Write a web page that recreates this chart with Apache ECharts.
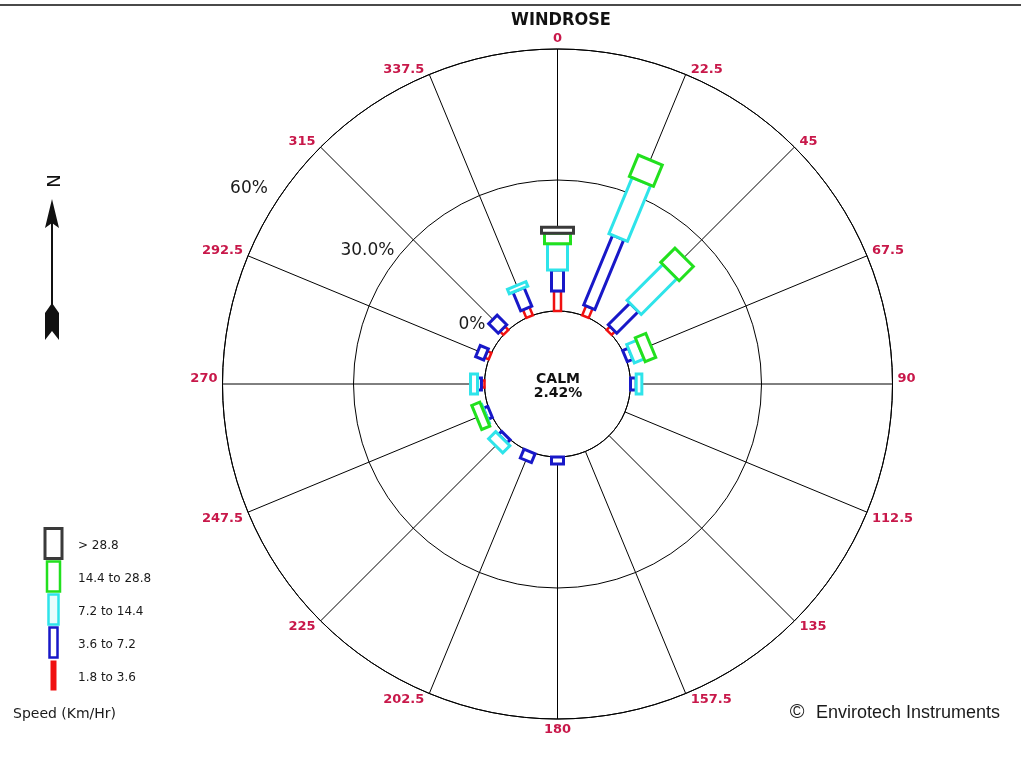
<!DOCTYPE html>
<html>
<head>
<meta charset="utf-8">
<title>Windrose</title>
<script src="https://cdn.jsdelivr.net/npm/echarts@6/dist/echarts.min.js"></script>
<style>
  html, body { margin: 0; padding: 0; background: #fff; }
  #chart { width: 1021px; height: 761px; }
</style>
</head>
<body>
<div id="chart"></div>
<script>
// Wind directions, degrees clockwise from north
const directions = [0, 22.5, 45, 67.5, 90, 112.5, 135, 157.5, 180, 202.5, 225, 247.5, 270, 292.5, 315, 337.5];
const directionLabels = ['0', '22.5', '45', '67.5', '90', '112.5', '135', '157.5', '180', '202.5', '225', '247.5', '270', '292.5', '315', '337.5'];

// Frequency (% of records) per speed class, one value per direction
const speed1_8to3_6   = [4.6, 2.3, 1.1, 0.0, 0.0, 0, 0, 0, 0.0, 0.0, 0.0, 0.0, 0.7, 1.0, 1.1, 2.0];
const speed3_6to7_2   = [4.8, 17.3, 7.0, 1.4, 1.3, 0, 0, 0, 1.6, 2.2, 1.0, 1.1, 0.9, 2.0, 3.1, 4.6];
const speed7_2to14_4  = [6.0, 13.9, 11.6, 2.4, 1.3, 0, 0, 0, 0, 0, 2.3, 0.2, 1.6, 0, 0, 1.1];
const speed14_4to28_8 = [2.4, 5.3, 4.6, 2.6, 0, 0, 0, 0, 0, 0, 0, 2.0, 0, 0, 0, 0];
const speedAbove28_8  = [1.4, 0, 0, 0, 0, 0, 0, 0, 0, 0, 0, 0, 0, 0, 0, 0];

const speedClasses = ['1.8 to 3.6', '3.6 to 7.2', '7.2 to 14.4', '14.4 to 28.8', '> 28.8'];
const speedSeries = [speed1_8to3_6, speed3_6to7_2, speed7_2to14_4, speed14_4to28_8, speedAbove28_8];

// Radial (percentage) ticks
const radialTicks = [0, 30, 60];
const radialTickLabels = ['0%', '30.0%', '60%'];

const calmPercent = 2.42;

// Styling per speed class: outline colour, bar width (px), outline width
const classStyles = [
  { color: '#f01010', width: 7,  line: 2.5, legendW: 6,  legendFill: '#f01010' },
  { color: '#1818c8', width: 12, line: 3,   legendW: 8,  legendFill: '#ffffff' },
  { color: '#2ee4ea', width: 20, line: 3,   legendW: 10, legendFill: '#e8fdfd' },
  { color: '#22e01e', width: 26, line: 3,   legendW: 13, legendFill: '#ffffff' },
  { color: '#3a3a3a', width: 32, line: 3,   legendW: 17, legendFill: '#ffffff' }
];

const RADIAL_MAX = 60;
const LABEL_RED = '#c8184a';
const ANGLE_FONT = 'bold 13px "DejaVu Sans"';
const RADIAL_FONT = '17px "DejaVu Sans"';
// Bearing and outward offset (px) of each ring's percentage label
const RADIAL_LABEL_LAYOUT = [
  { bearing: 304.6, offset: 31 },
  { bearing: 305.0, offset: 28 },
  { bearing: 302.3, offset: 30 }
];

// Unit vector pointing outwards along a direction, via the polar scale
function outward(api, dir) {
  const c = api.coord([0, dir]);
  const f = api.coord([RADIAL_MAX, dir]);
  const dx = f[0] - c[0], dy = f[1] - c[1];
  const len = Math.hypot(dx, dy) || 1;
  return [dx / len, dy / len];
}

// Stack the classes: each segment runs from the running total to total + value
function stackedData(classIdx) {
  return directions.map((dir, i) => {
    let start = 0;
    for (let k = 0; k < classIdx; k++) start += speedSeries[k][i];
    return [dir, start, start + speedSeries[classIdx][i]];
  });
}

function barRenderer(classIdx) {
  const st = classStyles[classIdx];
  return function (params, api) {
    const dir = api.value(0), r0 = api.value(1), r1 = api.value(2);
    if (!(r1 - r0 > 0)) return null;
    const a = api.coord([r0, dir]);
    const b = api.coord([r1, dir]);
    const u = outward(api, dir);
    const nx = -u[1] * st.width / 2, ny = u[0] * st.width / 2;
    return {
      type: 'polygon',
      shape: {
        points: [
          [a[0] + nx, a[1] + ny], [b[0] + nx, b[1] + ny],
          [b[0] - nx, b[1] - ny], [a[0] - nx, a[1] - ny]
        ]
      },
      style: { fill: '#ffffff', stroke: st.color, lineWidth: st.line, lineJoin: 'miter' }
    };
  };
}

const barSeries = speedClasses.map((name, idx) => ({
  name: name,
  type: 'custom',
  coordinateSystem: 'polar',
  dimensions: ['dir', 'start', 'end'],
  encode: { angle: 0, radius: 2 },
  data: stackedData(idx),
  renderItem: barRenderer(idx),
  z: 3 + idx,
  silent: true
}));

// Direction labels beside the end of each spoke
const directionLabelSeries = {
  type: 'custom',
  coordinateSystem: 'polar',
  dimensions: ['dir', 'idx'],
  encode: { angle: 0 },
  data: directions.map((d, i) => [d, i]),
  z: 10,
  silent: true,
  renderItem: function (params, api) {
    const dir = api.value(0);
    const text = directionLabels[api.value(1)];
    const p = api.coord([RADIAL_MAX, dir]);
    const u = outward(api, dir);
    let x, y, align;
    if (Math.abs(u[0]) < 0.1) {
      align = 'center';
      x = p[0];
      y = p[1] + u[1] * 10.5;
    } else {
      align = u[0] > 0 ? 'left' : 'right';
      x = p[0] + Math.sign(u[0]) * 5;
      y = p[1] + (u[1] > 0.05 ? 6 : -5);
    }
    return {
      type: 'text',
      x: x, y: y,
      style: {
        text: text, font: ANGLE_FONT, fill: LABEL_RED,
        align: align, verticalAlign: 'middle',
        textAlign: align, textVerticalAlign: 'middle'
      }
    };
  }
};

// Percentage labels for the rings
const radialLabelSeries = {
  type: 'custom',
  coordinateSystem: 'polar',
  dimensions: ['value', 'idx'],
  encode: { radius: 0 },
  data: radialTicks.map((v, i) => [v, i]),
  z: 10,
  silent: true,
  renderItem: function (params, api) {
    const v = api.value(0);
    const idx = api.value(1);
    const lay = RADIAL_LABEL_LAYOUT[idx];
    const p = api.coord([v, lay.bearing]);
    const u = outward(api, lay.bearing);
    return {
      type: 'text',
      x: p[0] + u[0] * lay.offset,
      y: p[1] + u[1] * lay.offset,
      style: {
        text: radialTickLabels[idx], font: RADIAL_FONT, fill: '#1a1a1a',
        align: 'center', verticalAlign: 'middle',
        textAlign: 'center', textVerticalAlign: 'middle'
      }
    };
  }
};

// Legend: stacked boxes, calmest class at the bottom
const legendGraphics = [];
const LEGEND_TOP = 527, LEGEND_SEG = 33, LEGEND_CX = 53.5;
for (let i = speedClasses.length - 1; i >= 0; i--) {
  const st = classStyles[i];
  const y = LEGEND_TOP + (speedClasses.length - 1 - i) * LEGEND_SEG;
  const isRed = i === 0;
  legendGraphics.push({
    type: 'rect',
    shape: { x: LEGEND_CX - st.legendW / 2, y: y + 1.5, width: st.legendW, height: LEGEND_SEG - 3 },
    style: { fill: st.legendFill, stroke: isRed ? null : st.color, lineWidth: isRed ? 0 : (i === 4 ? 3 : 2.5) },
    silent: true
  });
  legendGraphics.push({
    type: 'text',
    x: 78, y: y + LEGEND_SEG / 2 + 2,
    style: {
      text: speedClasses[i], font: '12px "DejaVu Sans"', fill: '#1a1a1a',
      align: 'left', verticalAlign: 'middle', textAlign: 'left', textVerticalAlign: 'middle'
    },
    silent: true
  });
}

const chart = echarts.init(document.getElementById('chart'), null, { renderer: 'canvas' });

chart.setOption({
  backgroundColor: '#ffffff',
  animation: false,
  polar: { center: [557.5, 384], radius: [73, 335] },
  angleAxis: {
    type: 'value', min: 0, max: 360, interval: 22.5,
    startAngle: 90, clockwise: true,
    axisLine: { show: true, lineStyle: { color: '#000', width: 1 } },
    axisTick: { show: false },
    axisLabel: { show: false },
    splitLine: { show: true, lineStyle: { color: '#000', width: 1 } }
  },
  radiusAxis: {
    type: 'value', min: 0, max: RADIAL_MAX, interval: 30,
    axisLine: { show: false },
    axisTick: { show: false },
    axisLabel: { show: false },
    splitLine: { show: true, lineStyle: { color: '#000', width: 1 } }
  },
  series: barSeries.concat([directionLabelSeries, radialLabelSeries]),
  graphic: [
    {
      type: 'line', shape: { x1: 0, y1: 5, x2: 1021, y2: 5 },
      style: { stroke: '#4a4a4a', lineWidth: 2 }, silent: true
    },
    {
      type: 'text', x: 561, y: 20,
      style: {
        text: 'WINDROSE', font: 'bold 18px "DejaVu Sans Condensed"', fill: '#111',
        align: 'center', verticalAlign: 'middle', textAlign: 'center', textVerticalAlign: 'middle'
      }
    },
    {
      type: 'text', x: 558, y: 386,
      style: {
        text: 'CALM\n' + calmPercent.toFixed(2) + '%', font: 'bold 14px "DejaVu Sans"', fill: '#111',
        lineHeight: 14,
        align: 'center', verticalAlign: 'middle', textAlign: 'center', textVerticalAlign: 'middle'
      }
    },
    // North arrow
    {
      type: 'text', x: 52, y: 181, rotation: -Math.PI / 2,
      style: {
        text: 'N', font: '18px "DejaVu Sans"', fill: '#111',
        align: 'center', verticalAlign: 'middle', textAlign: 'center', textVerticalAlign: 'middle'
      }
    },
    {
      type: 'line', shape: { x1: 52, y1: 215, x2: 52, y2: 310 },
      style: { stroke: '#111', lineWidth: 2 }
    },
    {
      type: 'polygon', shape: { points: [[52, 199], [45, 228], [52, 223], [59, 228]] },
      style: { fill: '#111' }
    },
    {
      type: 'polygon', shape: { points: [[52, 303], [59, 313], [59, 340], [52, 331], [45, 340], [45, 313]] },
      style: { fill: '#111' }
    },
    {
      type: 'text', x: 13, y: 714,
      style: {
        text: 'Speed (Km/Hr)', font: '14px "DejaVu Sans"', fill: '#1a1a1a',
        align: 'left', verticalAlign: 'middle', textAlign: 'left', textVerticalAlign: 'middle'
      }
    },
    {
      type: 'text', x: 797, y: 712,
      style: {
        text: '\u00A9', font: '20px "Liberation Sans"', fill: '#1a1a1a',
        align: 'center', verticalAlign: 'middle', textAlign: 'center', textVerticalAlign: 'middle'
      }
    },
    {
      type: 'text', x: 816, y: 713,
      style: {
        text: 'Envirotech Instruments', font: '18px "Liberation Sans"', fill: '#1a1a1a',
        align: 'left', verticalAlign: 'middle', textAlign: 'left', textVerticalAlign: 'middle'
      }
    }
  ].concat(legendGraphics)
});
</script>
</body>
</html>
